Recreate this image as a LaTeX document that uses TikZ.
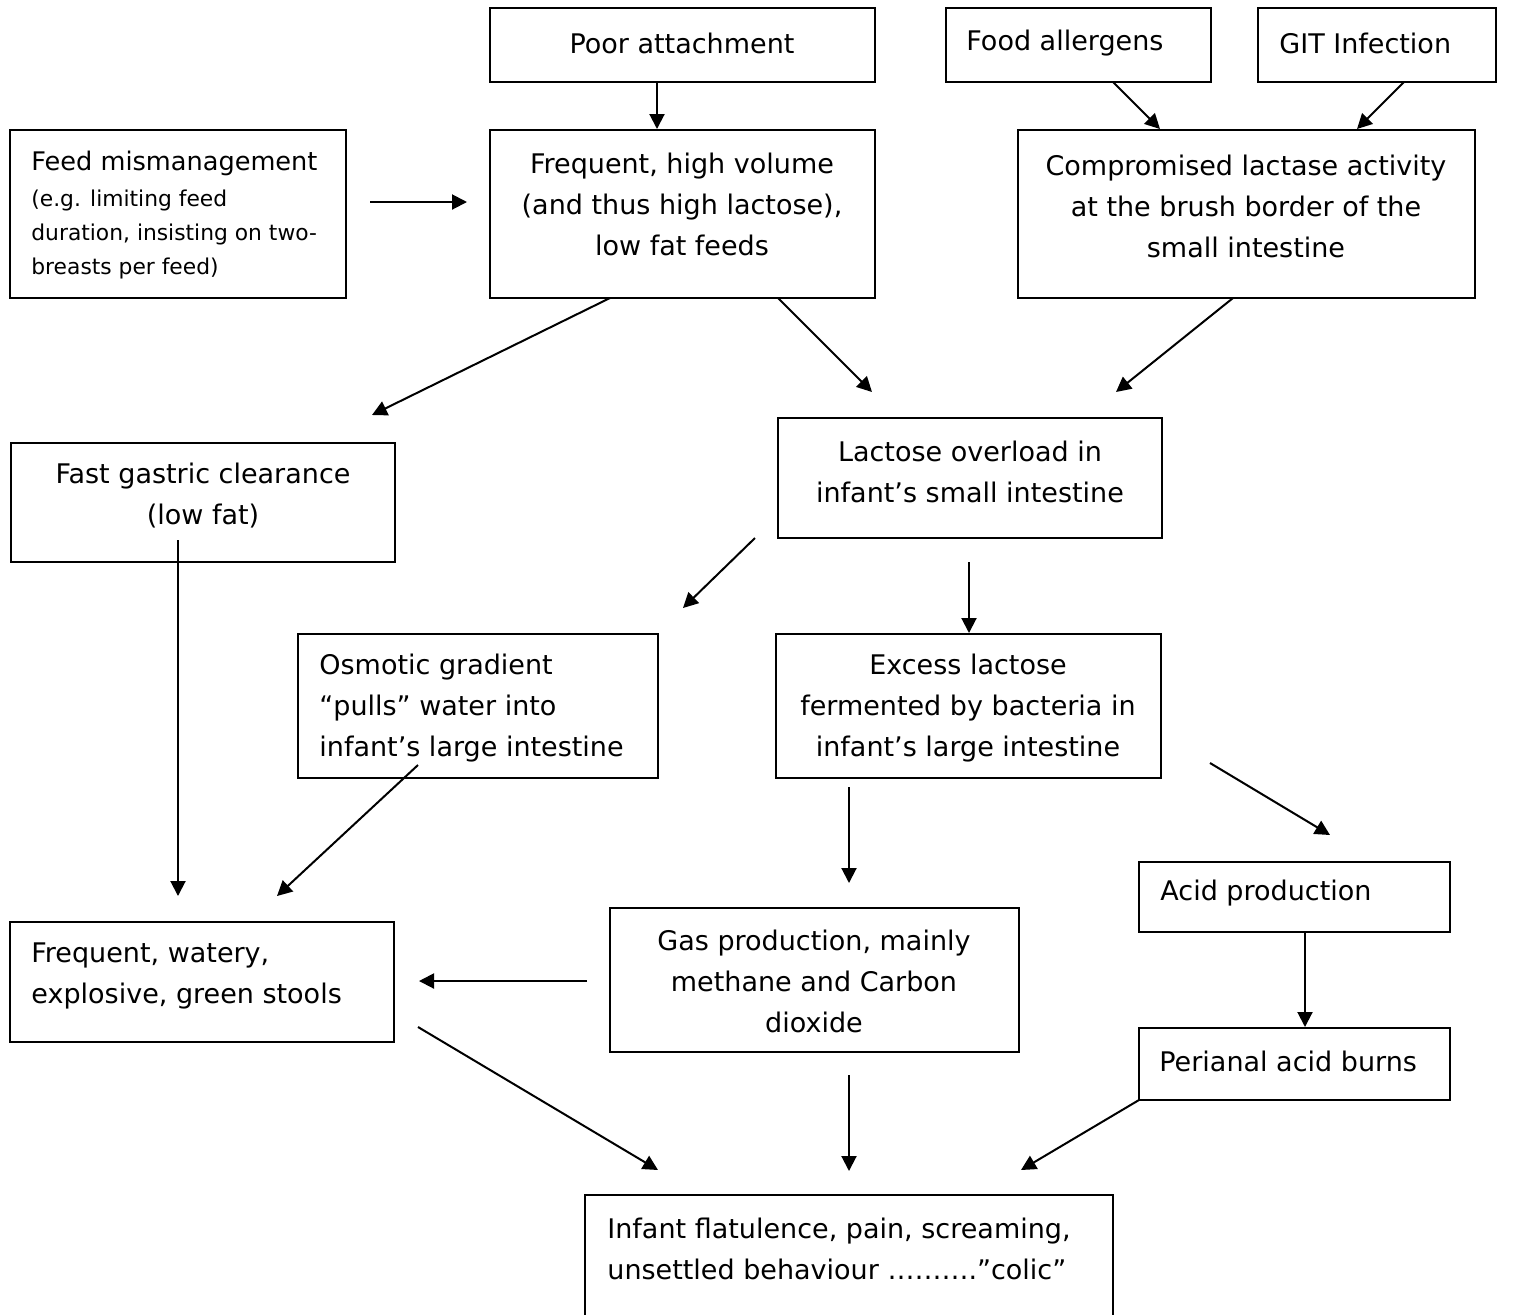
\documentclass[tikz,border=0pt]{standalone}
\usepackage{fontspec}
\setmainfont{DejaVu Sans}
\usetikzlibrary{arrows.meta,fit}
\begin{document}
\begin{tikzpicture}[x=0.5pt,y=-0.5pt,
  box/.style={draw, line width=1pt, inner sep=0pt, rectangle},
  txt/.style={inner sep=0pt, font=\fontsize{13.5}{20.5}\selectfont},
  smalltxt/.style={inner sep=0pt, font=\fontsize{10.9}{17}\selectfont},
  arr/.style={line width=1pt, -{Triangle[length=7.5pt,width=7.5pt]}}]
\useasboundingbox (0,0) rectangle (1522,1314);

% boxes
\node[box, fit={(490,8) (875,82)}] (pa) {};
\node[box, fit={(946,8) (1211,82)}] (fa) {};
\node[box, fit={(1258,8) (1496,82)}] (git) {};
\node[box, fit={(10,130) (346,298)}] (fm) {};
\node[box, fit={(490,130) (875,298)}] (fr) {};
\node[box, fit={(1018,130) (1475,298)}] (cl) {};
\node[box, fit={(11,443) (395,562)}] (fg) {};
\node[box, fit={(778,418) (1162,538)}] (lo) {};
\node[box, fit={(298,634) (658,778)}] (os) {};
\node[box, fit={(776,634) (1161,778)}] (ex) {};
\node[box, fit={(1139,862) (1450,932)}] (ap) {};
\node[box, fit={(10,922) (394,1042)}] (fw) {};
\node[box, fit={(610,908) (1019,1052)}] (gp) {};
\node[box, fit={(1139,1028) (1450,1100)}] (pb) {};
\node[box, fit={(585,1195) (1113,1340)}] (inf) {};

% texts
\node[txt] (pa-t) at (682,43) {Poor attachment};
\node[txt, anchor=west] (fa-t) at (966,43) {Food allergens};
\node[txt, anchor=west] (git-t) at (1279,43) {GIT Infection};
\node[txt, anchor=west, font=\fontsize{12.8}{20.5}\selectfont] (fm-t1) at (31,163) {Feed mismanagement};
\node[smalltxt, anchor=west, align=left] (fm-t2) at (31,234) {(e.g. limiting feed\\duration, insisting on two-\\breasts per feed)};
\node[txt, align=center] (fr-t) at (682,204) {Frequent, high volume\\(and thus high lactose),\\low fat feeds};
\node[txt, align=center] (cl-t) at (1246,206) {Compromised lactase activity\\at the brush border of the\\small intestine};
\node[txt, align=center] (fg-t) at (203,496) {Fast gastric clearance\\(low fat)};
\node[txt, align=center] (lo-t) at (970,471.5) {Lactose overload in\\infant’s small intestine};
\node[txt, anchor=west, align=left] (os-t) at (319,708) {Osmotic gradient\\“pulls” water into\\infant’s large intestine};
\node[txt, align=center] (ex-t) at (968,708) {Excess lactose\\fermented by bacteria in\\infant’s large intestine};
\node[txt, anchor=west] (ap-t) at (1160,893) {Acid production};
\node[txt, anchor=west, align=left] (fw-t) at (31,975.5) {Frequent, watery,\\explosive, green stools};
\node[txt, align=center] (gp-t) at (814,981.5) {Gas production, mainly\\methane and Carbon\\dioxide};
\node[txt, anchor=west] (pb-t) at (1159,1061) {Perianal acid burns};
\node[txt, anchor=west, align=left] (inf-t) at (607,1248.5) {Infant flatulence, pain, screaming,\\unsettled behaviour ……….”colic”};

% free arrow ends
\coordinate (a1s) at (657,82);   \coordinate (a1e) at (657,129);
\coordinate (a2s) at (1113,82);  \coordinate (a2e) at (1160,129);
\coordinate (a3s) at (1404,82);  \coordinate (a3e) at (1357,129);
\coordinate (a4s) at (370,202);  \coordinate (a4e) at (467,202);
\coordinate (a5s) at (610,298);  \coordinate (a5e) at (372,415);
\coordinate (a6s) at (778,298);  \coordinate (a6e) at (872,392);
\coordinate (a7s) at (1233,298); \coordinate (a7e) at (1116,392);
\coordinate (a8s) at (755,538);  \coordinate (a8e) at (683,608);
\coordinate (a9s) at (969,562);  \coordinate (a9e) at (969,633);
\coordinate (a10s) at (178,540); \coordinate (a10e) at (178,896);
\coordinate (a11s) at (418,765); \coordinate (a11e) at (277,896);
\coordinate (a12s) at (849,787); \coordinate (a12e) at (849,883);
\coordinate (a13s) at (1210,763);\coordinate (a13e) at (1330,835);
\coordinate (a14s) at (1305,932);\coordinate (a14e) at (1305,1027);
\coordinate (a15s) at (587,981); \coordinate (a15e) at (419,981);
\coordinate (a16s) at (418,1027);\coordinate (a16e) at (658,1170);
\coordinate (a17s) at (849,1075);\coordinate (a17e) at (849,1171);
\coordinate (a18s) at (1139,1100);\coordinate (a18e) at (1021,1170);

\foreach \i in {1,...,18} \draw[arr] (a\i s) -- (a\i e);
\end{tikzpicture}
\end{document}
